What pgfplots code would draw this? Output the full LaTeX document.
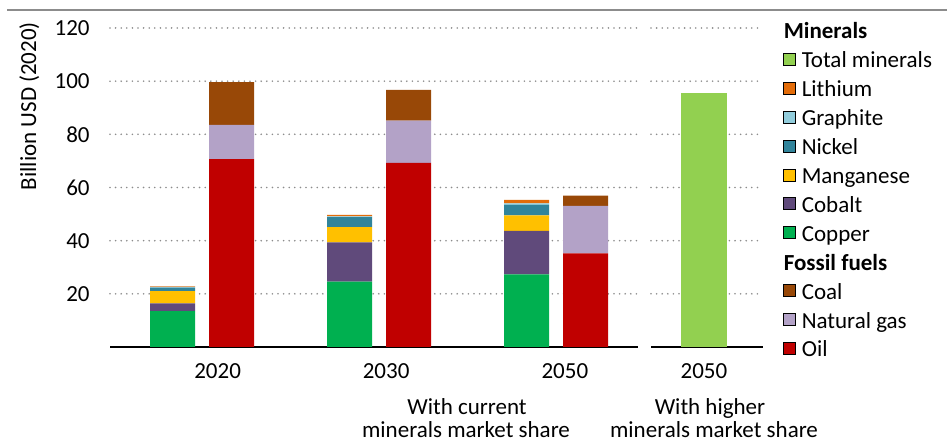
\documentclass[border=0pt]{standalone}
\usepackage{fontspec}
\setmainfont{Carlito}
\usepackage{pgfplots}
\usepackage{pgfplotstable}
\pgfplotsset{compat=1.18}
\definecolor{cCopper}{HTML}{00B050}
\definecolor{cCobalt}{HTML}{604A7B}
\definecolor{cMang}{HTML}{FFC000}
\definecolor{cNickel}{HTML}{31849B}
\definecolor{cGraph}{HTML}{92CDDC}
\definecolor{cLith}{HTML}{E36C09}
\definecolor{cTotal}{HTML}{92D050}
\definecolor{cCoal}{HTML}{984807}
\definecolor{cGas}{HTML}{B3A2C7}
\definecolor{cOil}{HTML}{C00000}
\definecolor{cGrid}{HTML}{8C8C8C}

\pgfplotstableread{
x copper cobalt manganese nickel graphite lithium oil gas coal
-0.1667 13.5 2.9 4.6 1.3 0.3 0.2 0 0 0
0.1667 0 0 0 0 0 0 70.7 12.9 16.0
0.8333 24.6 14.8 5.7 3.8 0.2 0.6 0 0 0
1.1667 0 0 0 0 0 0 69.3 15.9 11.5
1.8333 27.3 16.4 5.8 4.0 0.5 1.3 0 0 0
2.1667 0 0 0 0 0 0 35.2 17.9 3.8
}\datatab

\pgfplotsset{
  legsq/.style={legend image code/.code={\fill[##1] (0pt,1.25pt) rectangle (6pt,7.25pt);}},
  legempty/.style={legend image code/.code={}},
  base/.style={
    scale only axis, height=159.5pt, ymin=0, ymax=120,
    ybar stacked,
    axis lines*=left,
    y axis line style={draw=none},
    x axis line style={line width=0.75pt, black},
    major tick length=0pt,
    ytick={20,40,60,80,100,120},
    ymajorgrids,
    grid style={draw=cGrid, line width=0.9pt, dash pattern=on 0pt off 2.8pt, line cap=round},
    /pgf/number format/assume math mode=true,
    xticklabel style={anchor=base, yshift=-16pt},
    clip=false,
  }
}

\begin{document}
\fontsize{11.5}{13.8}\selectfont
\begin{tikzpicture}[x=1pt,y=1pt]
\path[use as bounding box] (0,0) rectangle (473.5,221.5);
\draw[cGrid, line width=1pt] (3.5,216.5) -- (473.5,216.5);

\begin{axis}[base, at={(55pt,48pt)}, anchor=south west, width=264pt,
  xmin=-0.52, xmax=2.463, bar width=0.254,
  xtick={0.088,1.04,2.05}, xticklabels={2020,2030,2050},
  yticklabel style={anchor=east, inner sep=0pt, xshift=-10pt},
  ylabel={Billion USD (2020)},
  ylabel style={at={(axis description cs:-0.153,0.755)}, anchor=center},
  legend style={at={(axis description cs:1.2746,1.0188)}, anchor=north west,
    draw=none, fill=none, inner sep=0pt, outer sep=0pt, row sep=3.45pt,
    nodes={inner sep=0pt, text height=8.5pt, text depth=2.5pt},
    cells={anchor=base west},
    /tikz/every odd column/.append style={column sep=3pt}},
]
\addplot[fill=cCopper, draw=none, forget plot] table[x=x,y=copper]{\datatab};
\addplot[fill=cCobalt, draw=none, forget plot] table[x=x,y=cobalt]{\datatab};
\addplot[fill=cMang, draw=none, forget plot] table[x=x,y=manganese]{\datatab};
\addplot[fill=cNickel, draw=none, forget plot] table[x=x,y=nickel]{\datatab};
\addplot[fill=cGraph, draw=none, forget plot] table[x=x,y=graphite]{\datatab};
\addplot[fill=cLith, draw=none, forget plot] table[x=x,y=lithium]{\datatab};
\addplot[fill=cOil, draw=none, forget plot] table[x=x,y=oil]{\datatab};
\addplot[fill=cGas, draw=none, forget plot] table[x=x,y=gas]{\datatab};
\addplot[fill=cCoal, draw=none, forget plot] table[x=x,y=coal]{\datatab};

\addlegendimage{legempty}\addlegendentry{\hspace*{-9pt}\textbf{Minerals}}
\addlegendimage{legsq, fill=cTotal}\addlegendentry{Total minerals}
\addlegendimage{legsq, fill=cLith}\addlegendentry{Lithium}
\addlegendimage{legsq, fill=cGraph}\addlegendentry{Graphite}
\addlegendimage{legsq, fill=cNickel}\addlegendentry{Nickel}
\addlegendimage{legsq, fill=cMang}\addlegendentry{Manganese}
\addlegendimage{legsq, fill=cCobalt}\addlegendentry{Cobalt}
\addlegendimage{legsq, fill=cCopper}\addlegendentry{Copper}
\addlegendimage{legempty}\addlegendentry{\hspace*{-9pt}\textbf{Fossil fuels}}
\addlegendimage{legsq, fill=cCoal}\addlegendentry{Coal}
\addlegendimage{legsq, fill=cGas}\addlegendentry{Natural gas}
\addlegendimage{legsq, fill=cOil}\addlegendentry{Oil}
\end{axis}

\begin{axis}[base, at={(325.5pt,48pt)}, anchor=south west, width=56pt,
  xmin=-0.473, xmax=0.527, bar width=0.41,
  xtick={0}, xticklabels={2050}, yticklabels={},
]
\addplot[fill=cTotal, draw=none] coordinates {(0,95.5)};
\end{axis}

\node[anchor=base] at (233.5,14.3) {With current};
\node[anchor=base] at (233,2.6) {minerals market share};
\node[anchor=base] at (355,14.3) {With higher};
\node[anchor=base] at (357,2.6) {minerals market share};
\end{tikzpicture}
\end{document}
